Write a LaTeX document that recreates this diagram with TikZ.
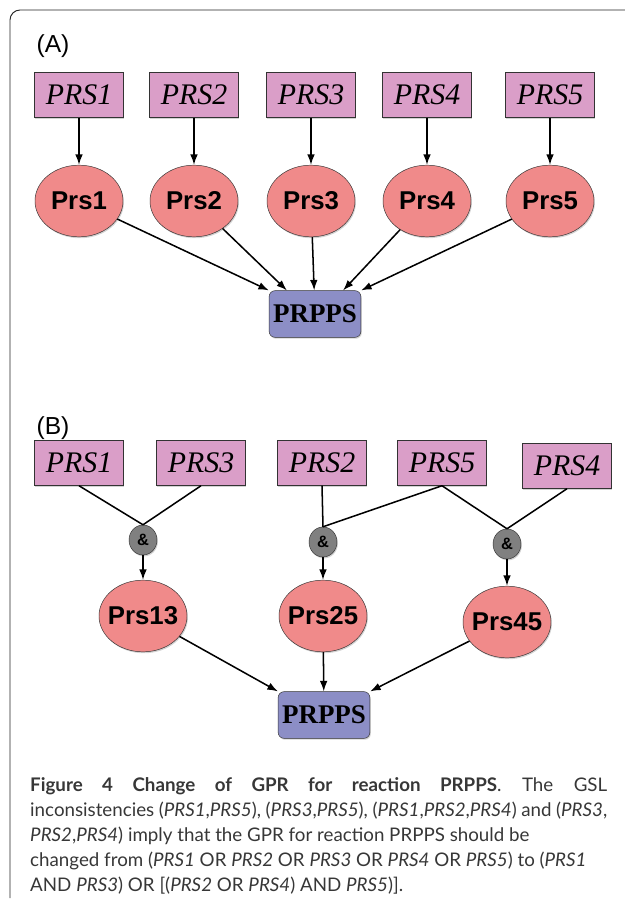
\documentclass[tikz,border=0pt]{standalone}
\usepackage{fontspec}
\setmainfont{Liberation Serif}
\newfontfamily\capfont{Lato}
\newfontfamily\helv{Liberation Sans}
\usetikzlibrary{arrows.meta, shapes.geometric, shadows}

\definecolor{genepink}{RGB}{218,158,200}
\definecolor{protred}{RGB}{240,138,138}
\definecolor{rxnblue}{RGB}{140,142,198}
\definecolor{gategray}{RGB}{128,128,128}
\definecolor{captext}{RGB}{55,55,55}

\tikzset{
  shade/.style={drop shadow={shadow xshift=0.8pt, shadow yshift=-1.2pt, opacity=0.35}},
  gene/.style={rectangle, draw=black!80, fill=genepink, shade, minimum width=2.67cm, minimum height=1.35cm, inner sep=0pt, font=\itshape\fontsize{25.5}{27}\selectfont},
  prot/.style={ellipse, draw=black!80, fill=protred, shade, minimum width=2.64cm, minimum height=2.15cm, inner sep=0pt, inner xsep=-4pt, font=\helv\bfseries\fontsize{22}{24}\selectfont},
  rxn/.style={rectangle, rounded corners=5pt, draw=black!80, fill=rxnblue, shade, minimum width=2.75cm, minimum height=1.4cm, inner sep=0pt, font=\bfseries\fontsize{23}{24}\selectfont},
  gate/.style={ellipse, draw=black!80, fill=gategray, shade, minimum width=0.84cm, minimum height=0.9cm, inner sep=0pt, font=\helv\bfseries\fontsize{14}{15}\selectfont},
  panel/.style={inner sep=0pt, font=\helv\fontsize{21}{24}\selectfont},
  arr/.style={-{Latex[length=9pt, width=6.5pt]}, line width=1.3pt},
  link/.style={line width=1.3pt},
  capline/.style={inner sep=0pt, anchor=base west, text=captext, font=\capfont\fontsize{16}{19}\selectfont}
}

\begin{document}
\begin{tikzpicture}[x=0.03cm, y=-0.03cm]
\useasboundingbox (0,0) rectangle (625,902);

\draw[line width=0.8pt, black!85, rounded corners=0.3cm] (10,898) -- (10,10) -- (627,10); %frame

% (A) one gene -- one protein
\node[panel] (labA) at (53,46) {(A)};

\node[gene] (ga1) at (79,95) {PRS1};
\node[gene] (ga2) at (194,95) {PRS2};
\node[gene] (ga3) at (311,95) {PRS3};
\node[gene] (ga4) at (427,95) {PRS4};
\node[gene] (ga5) at (550,95) {PRS5};

\node[prot] (pa1) at (79,201) {Prs1};
\node[prot] (pa2) at (194,201) {Prs2};
\node[prot] (pa3) at (311,201) {Prs3};
\node[prot] (pa4) at (427,201) {Prs4};
\node[prot] (pa5) at (550,201) {Prs5};

\node[rxn] (ra) at (315,314) {PRPPS};

\foreach \i in {1,...,5}
  \draw[arr] (ga\i) -- (pa\i);

\draw[arr] (pa1) -- (ra.north west);
\draw[arr] (pa2) -- (ra.140);
\draw[arr] (pa3) -- (ra);
\draw[arr] (pa4) -- (ra.40);
\draw[arr] (pa5) -- (ra.north east);

% (B) complexes
\node[panel] (labB) at (53,428) {(B)};

\node[gene] (gb1) at (79,463) {PRS1};
\node[gene] (gb3) at (201,463) {PRS3};
\node[gene] (gb2) at (322,463) {PRS2};
\node[gene] (gb5) at (442,463) {PRS5};
\node[gene] (gb4) at (567,466) {PRS4};

\node[gate] (and1) at (143,540) {\&};
\node[gate] (and2) at (323,542) {\&};
\node[gate] (and3) at (507,544) {\&};

\node[prot] (p13) at (143,616) {Prs13};
\node[prot] (p25) at (323,616) {Prs25};
\node[prot] (p45) at (507,622) {Prs45};

\node[rxn] (rb) at (324,715) {PRPPS};

\draw[link] (gb1.south) -- (and1.north);
\draw[link] (gb3.south) -- (and1.north);
\draw[link] (gb2.south) -- (and2.north);
\draw[link] (gb5.south) -- (and2.north);
\draw[link] (gb5.south) -- (and3.north);
\draw[link] (gb4.south) -- (and3.north);

\draw[arr] (and1) -- (p13);
\draw[arr] (and2) -- (p25);
\draw[arr] (and3) -- (p45);

\draw[arr] (p13) -- (rb.north west);
\draw[arr] (p25) -- (rb);
\draw[arr] (p45) -- (rb.north east);

% caption
\node[capline] (cap1) at (30,791) {\hbox to 17.31cm{\textbf{Figure 4 Change of GPR for reaction PRPPS}. The GSL}};
\node[capline] (cap2) at (30,816) {\spaceskip=0.22em plus 1em minus 0.1em\hbox to 17.31cm{inconsistencies (\textit{PRS1},\textit{PRS5}), (\textit{PRS3},\textit{PRS5}), (\textit{PRS1},\textit{PRS2},\textit{PRS4}) and (\textit{PRS3},}};
\node[capline] (cap3) at (30,841) {\textit{PRS2},\textit{PRS4}) imply that the GPR for reaction PRPPS should be};
\node[capline] (cap4) at (30,866) {changed from (\textit{PRS1} OR \textit{PRS2} OR \textit{PRS3} OR \textit{PRS4} OR \textit{PRS5}) to (\textit{PRS1}};
\node[capline] (cap5) at (30,891) {AND \textit{PRS3}) OR [(\textit{PRS2} OR \textit{PRS4}) AND \textit{PRS5})].};

\end{tikzpicture}
\end{document}
